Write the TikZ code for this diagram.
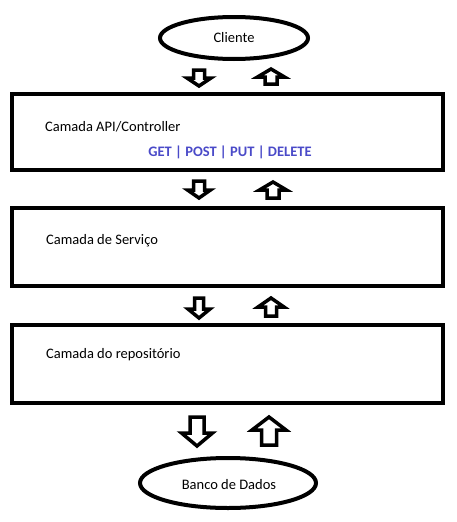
\documentclass[tikz,border=0pt]{standalone}
\usepackage{fontspec}
\setmainfont{Carlito}
\definecolor{verbblue}{HTML}{4A4AC8}
\newcommand{\blockarrowdown}[7]{% name, cx, ytop, W, w, H, h
  \draw[blockarrow] (#2-#5/2,#3) coordinate (#1) -- (#2+#5/2,#3) -- (#2+#5/2,#3+#6-#7) -- (#2+#4/2,#3+#6-#7)
    -- (#2,#3+#6) -- (#2-#4/2,#3+#6-#7) -- (#2-#5/2,#3+#6-#7) -- cycle;}
\newcommand{\blockarrowup}[7]{% name, cx, ybottom, W, w, H, h
  \draw[blockarrow] (#2-#5/2,#3) coordinate (#1) -- (#2+#5/2,#3) -- (#2+#5/2,#3-#6+#7) -- (#2+#4/2,#3-#6+#7)
    -- (#2,#3-#6) -- (#2-#4/2,#3-#6+#7) -- (#2-#5/2,#3-#6+#7) -- cycle;}
\begin{document}
\begin{tikzpicture}[x=1pt,y=-1pt,
  every node/.style={font=\fontsize{14.5}{17}\selectfont},
  ell/.style={draw,ellipse,line width=4pt,inner sep=0pt},
  layer/.style={draw,line width=4.5pt},
  blockarrow/.style={draw,line width=3.5pt,line join=miter,fill=white},
  lbl/.style={anchor=west,inner sep=0pt}]
\useasboundingbox (0,0) rectangle (457,522);
% ellipses
\draw[line width=4pt] (234,38) ellipse [x radius=74, y radius=21];
\node[inner sep=0pt] (cli) at (234,38) {Cliente};
\draw[line width=4pt] (228,483) ellipse [x radius=88, y radius=25];
\node[inner sep=0pt] (db) at (229,485) {Banco de Dados};
% layer boxes
\draw[layer] (12,94) rectangle (443,170);
\draw[layer] (12,208) rectangle (443,286);
\draw[layer] (12,325) rectangle (443,403);
\node[lbl] (api) at (45,127) {Camada API/Controller};
\node[inner sep=0pt,text=verbblue,font=\fontsize{14.5}{17}\selectfont\bfseries] (verbs) at (230,152) {GET | POST | PUT | DELETE};
\node[lbl] (svc) at (46,241) {Camada de Serviço};
\node[lbl] (repo) at (46,355) {Camada do repositório};
% arrows
\blockarrowdown{a1}{199}{70}{24}{11}{16}{8}
\blockarrowup{a2}{271}{84}{27}{12}{15}{8}
\blockarrowdown{a3}{199}{181}{23}{11}{17}{8}
\blockarrowup{a4}{273}{198}{27}{12}{16}{8}
\blockarrowdown{a5}{199}{298}{22}{9}{20}{9}
\blockarrowup{a6}{271}{316}{26}{11}{18}{9}
\blockarrowdown{a7}{197}{417}{31}{14}{29}{13}
\blockarrowup{a8}{269}{445}{34}{15}{28}{13}
\end{tikzpicture}
\end{document}
